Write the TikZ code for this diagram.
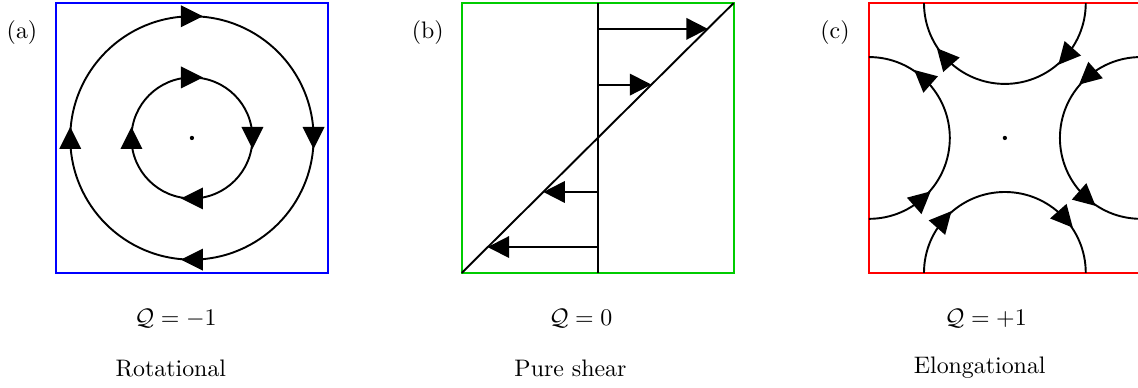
\documentclass[tikz,border=0pt]{standalone}
\usetikzlibrary{arrows.meta,decorations.markings}
\tikzset{tri/.tip={Triangle[length=9pt,width=9pt]}}
\newcommand{\flowtri}{\fill (4.6pt,0) -- (-4.6pt,4.6pt) -- (-4.6pt,-4.6pt) -- cycle;}
\begin{document}
\begin{tikzpicture}[scale=1.0,
    box/.style={thick},
    flow/.style={thick, postaction={decorate}}]
    \draw[use as bounding box, white, very thin] (0,0) rectangle (16.735,5.691);

    % (a) 旋转流：两条闭合流线
    \begin{scope}[shift={(0.82,1.68)},
        flow/.append style={decoration={markings,
            mark=between positions 0 and 0.8 step 0.25 with {\flowtri}}}]
        \draw[box, blue] (0,0) rectangle (4,3.97);
        \node (tag-a) at (-0.5,3.54) {(a)};

        % 外圈与内圈
        \draw[flow] (3.79,1.985) arc[start angle=0, end angle=-360, radius=1.79];
        \draw[flow] (2.89,1.985) arc[start angle=0, end angle=-360, radius=0.89];
        \fill (2,1.985) circle (0.9pt);

        \node (q-a) at (1.76,-0.67) {$\mathcal{Q}=-1$};
        \node (name-a) at (1.69,-1.40) {Rotational};
    \end{scope}

    % (b) 纯剪切：速度剖面
    \begin{scope}[shift={(6.79,1.68)}]
        \draw[box, green!80!black] (0,0) rectangle (4,3.97);
        \node (tag-b) at (-0.5,3.54) {(b)};

        \draw[thick] (2,0) -- (2,3.97);
        \draw[thick] (0,0) -- (4,3.97);
        \foreach \i/\v/\u in {1/3.59/3.62, 2/2.77/2.79, 3/1.19/1.20, 4/0.38/0.38} {
            \coordinate (s\i) at (2,\v);
            \coordinate (e\i) at (\u,\v);
            \draw[thick, -tri] (s\i) -- (e\i);
        }

        \node (q-b) at (1.75,-0.67) {$\mathcal{Q}=0$};
        \node (name-b) at (1.60,-1.40) {Pure shear};
    \end{scope}

    % (c) 拉伸流：四段半圆流线
    \begin{scope}[shift={(12.78,1.68)},
        flow/.append style={decoration={markings,
            mark=at position 0.23 with {\flowtri},
            mark=at position 0.77 with {\flowtri}}}]
        \draw[box, red] (0,0) rectangle (4,3.97);
        \node (tag-c) at (-0.5,3.54) {(c)};

        \draw[flow] (3.19,3.97) arc[start angle=0, end angle=-180, radius=1.19];
        \draw[flow] (0,0.795) arc[start angle=-90, end angle=90, radius=1.19];
        \draw[flow] (4,3.175) arc[start angle=90, end angle=270, radius=1.19];
        \draw[flow] (0.81,0) arc[start angle=180, end angle=0, radius=1.19];
        \fill (2,1.985) circle (0.9pt);

        \node (q-c) at (1.72,-0.67) {$\mathcal{Q}=+1$};
        \node (name-c) at (1.63,-1.40) {Elongational};
    \end{scope}
\end{tikzpicture}
\end{document}
